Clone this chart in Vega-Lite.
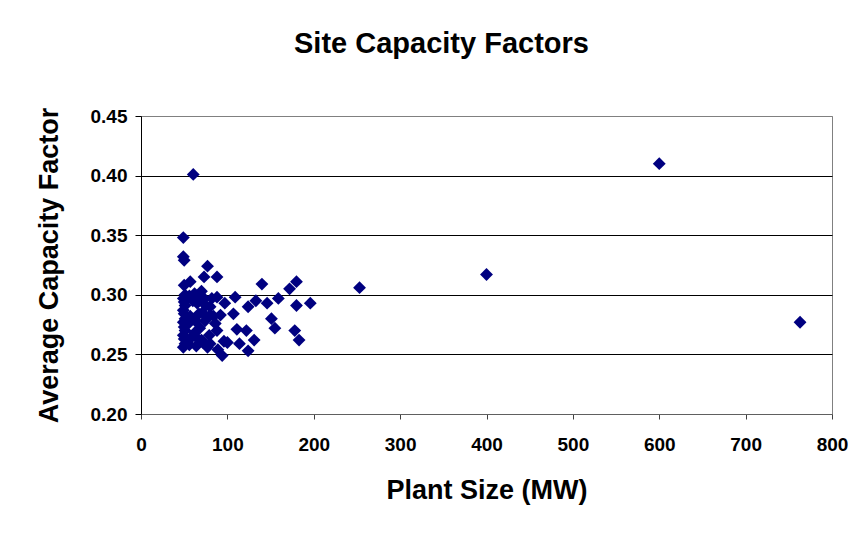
{
  "$schema": "https://vega.github.io/schema/vega-lite/v6.json",
  "autosize": "none",
  "width": 691,
  "height": 298,
  "padding": {"left": 141, "top": 116, "right": 25, "bottom": 122},
  "background": "white",
  "title": {
    "text": "Site Capacity Factors",
    "font": "Liberation Sans",
    "fontSize": 29,
    "fontWeight": "bold",
    "color": "black",
    "anchor": "middle",
    "frame": "group",
    "dx": -45,
    "baseline": "alphabetic",
    "offset": 25
  },
  "config": {
    "view": {"stroke": "#808080", "strokeWidth": 1},
    "axis": {
      "labelFont": "Liberation Sans",
      "labelFontWeight": "bold",
      "labelFontSize": 19,
      "labelColor": "black",
      "titleFont": "Liberation Sans",
      "titleFontWeight": "bold",
      "titleFontSize": 27,
      "titleColor": "black"
    }
  },
  "data": {
    "values": [
      {"size": 600, "cf": 0.410},
      {"size": 763, "cf": 0.277},
      {"size": 400, "cf": 0.317},
      {"size": 253, "cf": 0.306},
      {"size": 60.5, "cf": 0.401},
      {"size": 49, "cf": 0.348},
      {"size": 49, "cf": 0.332},
      {"size": 50, "cf": 0.329},
      {"size": 77, "cf": 0.324},
      {"size": 73, "cf": 0.315},
      {"size": 88, "cf": 0.315},
      {"size": 50, "cf": 0.308},
      {"size": 57, "cf": 0.311},
      {"size": 140, "cf": 0.309},
      {"size": 180, "cf": 0.311},
      {"size": 172, "cf": 0.305},
      {"size": 196, "cf": 0.293},
      {"size": 109, "cf": 0.298},
      {"size": 124, "cf": 0.290},
      {"size": 133, "cf": 0.295},
      {"size": 146, "cf": 0.293},
      {"size": 159, "cf": 0.297},
      {"size": 180, "cf": 0.291},
      {"size": 107, "cf": 0.284},
      {"size": 151, "cf": 0.280},
      {"size": 155, "cf": 0.272},
      {"size": 178, "cf": 0.270},
      {"size": 183, "cf": 0.262},
      {"size": 88, "cf": 0.270},
      {"size": 111, "cf": 0.271},
      {"size": 122, "cf": 0.270},
      {"size": 100, "cf": 0.260},
      {"size": 114, "cf": 0.259},
      {"size": 131, "cf": 0.262},
      {"size": 94, "cf": 0.249},
      {"size": 89, "cf": 0.254},
      {"size": 124, "cf": 0.253},
      {"size": 80, "cf": 0.259},
      {"size": 72, "cf": 0.260},
      {"size": 88, "cf": 0.298},
      {"size": 97, "cf": 0.293},
      {"size": 80, "cf": 0.290},
      {"size": 84, "cf": 0.282},
      {"size": 92, "cf": 0.283},
      {"size": 62, "cf": 0.301},
      {"size": 70, "cf": 0.303},
      {"size": 96, "cf": 0.261},
      {"size": 49, "cf": 0.256},
      {"size": 51, "cf": 0.259},
      {"size": 50, "cf": 0.263},
      {"size": 49, "cf": 0.266},
      {"size": 51, "cf": 0.270},
      {"size": 50, "cf": 0.273},
      {"size": 49, "cf": 0.277},
      {"size": 51, "cf": 0.280},
      {"size": 50, "cf": 0.284},
      {"size": 49, "cf": 0.287},
      {"size": 51, "cf": 0.291},
      {"size": 50, "cf": 0.294},
      {"size": 49, "cf": 0.297},
      {"size": 51, "cf": 0.300},
      {"size": 56, "cf": 0.258},
      {"size": 58, "cf": 0.264},
      {"size": 55, "cf": 0.276},
      {"size": 57, "cf": 0.282},
      {"size": 60, "cf": 0.295},
      {"size": 56, "cf": 0.299},
      {"size": 64, "cf": 0.257},
      {"size": 66, "cf": 0.263},
      {"size": 63, "cf": 0.278},
      {"size": 67, "cf": 0.284},
      {"size": 65, "cf": 0.293},
      {"size": 68, "cf": 0.298},
      {"size": 70, "cf": 0.262},
      {"size": 74, "cf": 0.278},
      {"size": 71, "cf": 0.285},
      {"size": 75, "cf": 0.291},
      {"size": 73, "cf": 0.297},
      {"size": 68, "cf": 0.272},
      {"size": 79, "cf": 0.266},
      {"size": 80, "cf": 0.283},
      {"size": 82, "cf": 0.297},
      {"size": 86, "cf": 0.276},
      {"size": 62, "cf": 0.268},
      {"size": 77, "cf": 0.256}
    ]
  },
  "mark": {"type": "point", "shape": "diamond", "filled": true, "size": 165, "color": "#000080", "opacity": 1},
  "encoding": {
    "x": {
      "field": "size",
      "type": "quantitative",
      "title": "Plant Size (MW)",
      "scale": {"domain": [0, 800], "nice": false, "zero": false},
      "axis": {
        "values": [0, 100, 200, 300, 400, 500, 600, 700, 800],
        "grid": false,
        "domainColor": "#606060",
        "tickColor": "#404040",
        "tickSize": 5,
        "labelPadding": 31,
        "labelBaseline": "alphabetic",
        "labelFlush": false,
        "titleX": 345.5,
        "titleY": 84,
        "titleBaseline": "alphabetic"
      }
    },
    "y": {
      "field": "cf",
      "type": "quantitative",
      "title": "Average Capacity Factor",
      "scale": {"domain": [0.2, 0.45], "nice": false, "zero": false},
      "axis": {
        "values": [0.2, 0.25, 0.3, 0.35, 0.4, 0.45],
        "format": ".2f",
        "grid": true,
        "gridColor": {"condition": {"test": "datum.value > 0.44 || datum.value < 0.21", "value": "#808080"}, "value": "black"},
        "gridWidth": 1,
        "domainColor": "black",
        "tickColor": "black",
        "tickSize": 6,
        "labelPadding": 8,
        "labelFlush": false,
        "titleAngle": -90,
        "titleX": -84,
        "titleY": 149,
        "titleAlign": "center",
        "titleBaseline": "alphabetic"
      }
    }
  }
}
